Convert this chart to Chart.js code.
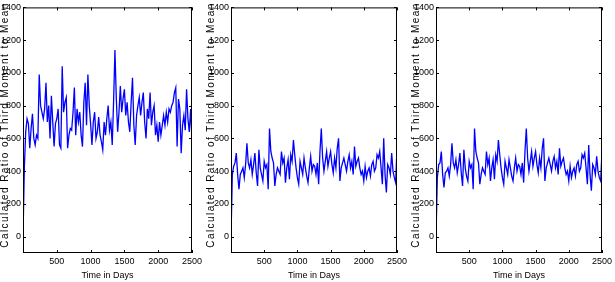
<!DOCTYPE html>
<html>
<head>
<meta charset="utf-8">
<script src="https://cdn.jsdelivr.net/npm/chart.js@4.4.1/dist/chart.umd.min.js"></script>
<style>
    html, body { margin: 0; padding: 0; background: #fff; }
    #wrap { position: relative; width: 615px; height: 282px; overflow: hidden; }
    .panel { position: absolute; top: 0; width: 205px; height: 282px; }
</style>
</head>
<body>
<div id="wrap">
    <div class="panel" style="left:0px"><canvas id="panelA"></canvas></div>
    <div class="panel" style="left:205px"><canvas id="panelB"></canvas></div>
    <div class="panel" style="left:410px"><canvas id="panelC"></canvas></div>
</div>
<script>
const days = [
    0, 20, 40, 60, 80, 100, 120, 140, 160, 180,
    200, 220, 240, 260, 280, 300, 320, 340, 360, 380,
    400, 420, 440, 460, 480, 500, 520, 540, 560, 580,
    600, 620, 640, 660, 680, 700, 720, 740, 760, 780,
    800, 820, 840, 860, 880, 900, 920, 940, 960, 980,
    1000, 1020, 1040, 1060, 1080, 1100, 1120, 1140, 1160, 1180,
    1200, 1220, 1240, 1260, 1280, 1300, 1320, 1340, 1360, 1380,
    1400, 1420, 1440, 1460, 1480, 1500, 1520, 1540, 1560, 1580,
    1600, 1620, 1640, 1660, 1680, 1700, 1720, 1740, 1760, 1780,
    1800, 1820, 1840, 1860, 1880, 1900, 1920, 1940, 1960, 1980,
    2000, 2020, 2040, 2060, 2080, 2100, 2120, 2140, 2160, 2180,
    2200, 2220, 2240, 2260, 2280, 2300, 2320, 2340, 2360, 2380,
    2400, 2420, 2440, 2460, 2480, 2500
];

const ratioA = [
    0, 420, 640, 720, 690, 540, 660, 750, 600, 560,
    620, 600, 990, 800, 760, 720, 780, 940, 700, 800,
    600, 860, 700, 550, 690, 720, 780, 560, 540, 1040,
    760, 820, 850, 540, 620, 660, 650, 760, 910, 620,
    780, 700, 760, 620, 550, 820, 940, 680, 990, 800,
    690, 560, 700, 760, 600, 640, 730, 620, 580, 530,
    700, 620, 720, 800, 650, 700, 560, 820, 1140, 850,
    640, 760, 920, 760, 840, 900, 740, 820, 700, 640,
    820, 970, 680, 560, 740, 800, 850, 740, 820, 880,
    700, 600, 780, 720, 880, 680, 760, 800, 620, 680,
    580, 700, 620, 680, 740, 680, 760, 700, 780, 760,
    800, 820, 880, 910, 550, 840, 780, 510, 680, 740,
    650, 900, 720, 640, 780, 590
];

const ratioB = [
    0, 380, 430, 450, 510, 380, 290, 380, 400, 420,
    360, 440, 570, 450, 420, 470, 380, 440, 510, 390,
    310, 530, 420, 380, 340, 460, 420, 440, 290, 660,
    520, 480, 450, 310, 380, 420, 400, 380, 520, 450,
    480, 330, 420, 470, 350, 500, 460, 590, 500, 420,
    360, 320, 460, 420, 380, 480, 420, 370, 330, 420,
    490, 400, 440, 430, 380, 450, 320, 520, 660, 480,
    400, 460, 520, 430, 480, 520, 440, 390, 480, 420,
    540, 600, 340, 420, 450, 480, 440, 400, 460, 500,
    420, 460, 380, 550, 430, 460, 480, 420, 380, 400,
    340, 430, 360, 400, 420, 370, 440, 460, 400, 420,
    500, 480, 520, 420, 320, 600, 380, 270, 440, 420,
    380, 510, 400, 360, 330, 540
];

const ratioC = [
    0, 360, 440, 450, 520, 380, 300, 390, 400, 420,
    370, 440, 570, 450, 420, 470, 390, 440, 510, 390,
    310, 530, 420, 370, 340, 460, 420, 440, 290, 660,
    520, 480, 450, 320, 380, 420, 400, 380, 520, 440,
    480, 340, 420, 470, 350, 500, 460, 590, 500, 420,
    360, 320, 460, 420, 380, 470, 420, 370, 340, 420,
    480, 400, 440, 430, 380, 450, 330, 520, 660, 480,
    400, 460, 520, 430, 480, 520, 440, 390, 480, 420,
    540, 600, 340, 420, 450, 480, 440, 400, 460, 490,
    420, 460, 380, 540, 430, 460, 480, 420, 380, 400,
    340, 430, 360, 400, 420, 370, 440, 460, 400, 420,
    500, 480, 510, 420, 320, 560, 380, 280, 440, 420,
    380, 490, 400, 360, 340, 520
];

const yTicks = [0, 200, 400, 600, 800, 1000, 1200, 1400];
const xTicks = [500, 1000, 1500, 2000, 2500];
const yTitle = 'Calculated Ratio of Third Moment to Mean';
const xTitle = 'Time in Days';

const tickFont = { family: "'Liberation Sans Narrow', 'Liberation Sans', Arial, sans-serif", size: 9 };

// matlab style box: closed frame, ticks pointing inward, stretched y label
const matlabFrame = {
    id: 'matlabFrame',
    afterDraw(chart, args, opts) {
        const { ctx, chartArea: a, scales: { x, y } } = chart;
        ctx.save();
        ctx.strokeStyle = '#000';
        ctx.lineWidth = 1;
        ctx.beginPath();
        y.ticks.forEach(t => {
            const py = Math.round(y.getPixelForValue(t.value)) + 0.5;
            ctx.moveTo(a.left, py);
            ctx.lineTo(a.left + 3, py);
            ctx.moveTo(a.right, py);
            ctx.lineTo(a.right - 3, py);
        });
        x.ticks.forEach(t => {
            const px = Math.round(x.getPixelForValue(t.value)) + 0.5;
            ctx.moveTo(px, a.bottom);
            ctx.lineTo(px, a.bottom - 3);
            ctx.moveTo(px, a.top);
            ctx.lineTo(px, a.top + 3);
        });
        ctx.stroke();
        ctx.strokeRect(a.left + 0.5, a.top + 0.5, a.width - 1, a.height - 1);

        ctx.font = "10px 'Liberation Sans', Arial, sans-serif";
        ctx.fillStyle = '#000';
        ctx.textAlign = 'center';
        ctx.textBaseline = 'middle';
        const natural = ctx.measureText(yTitle).width;
        const gap = (opts.titleLength - natural) / (yTitle.length - 1);
        if ('letterSpacing' in ctx) ctx.letterSpacing = gap.toFixed(2) + 'px';
        ctx.translate(opts.titleX, opts.titleY);
        ctx.rotate(-Math.PI / 2);
        ctx.fillText(yTitle, 0, 0);
        ctx.restore();
    }
};

function buildPanel(canvasId, values, axisWidth, titleX) {
    const canvas = document.getElementById(canvasId);
    const points = days.map((d, i) => ({ x: d, y: values[i] }));

    return new Chart(canvas, {
        type: 'line',
        data: {
            datasets: [{
                data: points,
                borderColor: '#0000ff',
                borderWidth: 1.3,
                pointRadius: 0,
                tension: 0,
                fill: false,
            }],
        },
        options: {
            responsive: true,
            maintainAspectRatio: false,
            animation: false,
            devicePixelRatio: 1,
            layout: { padding: { top: 4, right: 8, bottom: 0, left: 0 } },
            plugins: {
                legend: { display: false },
                tooltip: { enabled: false },
                matlabFrame: { titleX: titleX, titleY: 125, titleLength: 244 },
            },
            scales: {
                x: {
                    type: 'linear',
                    min: 0,
                    max: 2500,
                    afterBuildTicks: scale => { scale.ticks = xTicks.map(v => ({ value: v })); },
                    afterFit: scale => { scale.height = 29; },
                    grid: { display: false, drawTicks: false },
                    border: { display: false },
                    ticks: { color: '#000', font: tickFont, padding: 3, maxRotation: 0, callback: v => String(v) },
                    title: {
                        display: true,
                        text: xTitle,
                        color: '#000',
                        font: tickFont,
                        padding: { top: 0, bottom: 1 },
                    },
                },
                y: {
                    min: -100,
                    max: 1400,
                    afterBuildTicks: scale => { scale.ticks = yTicks.map(v => ({ value: v })); },
                    afterFit: scale => { scale.width = axisWidth; },
                    grid: { display: false, drawTicks: false },
                    border: { display: false },
                    ticks: { color: '#000', font: tickFont, padding: 2, callback: v => String(v) },
                },
            },
        },
        plugins: [matlabFrame],
    });
}

buildPanel('panelA', ratioA, 23, 5);
buildPanel('panelB', ratioB, 26, 6);
buildPanel('panelC', ratioC, 26, 6);
</script>
</body>
</html>
